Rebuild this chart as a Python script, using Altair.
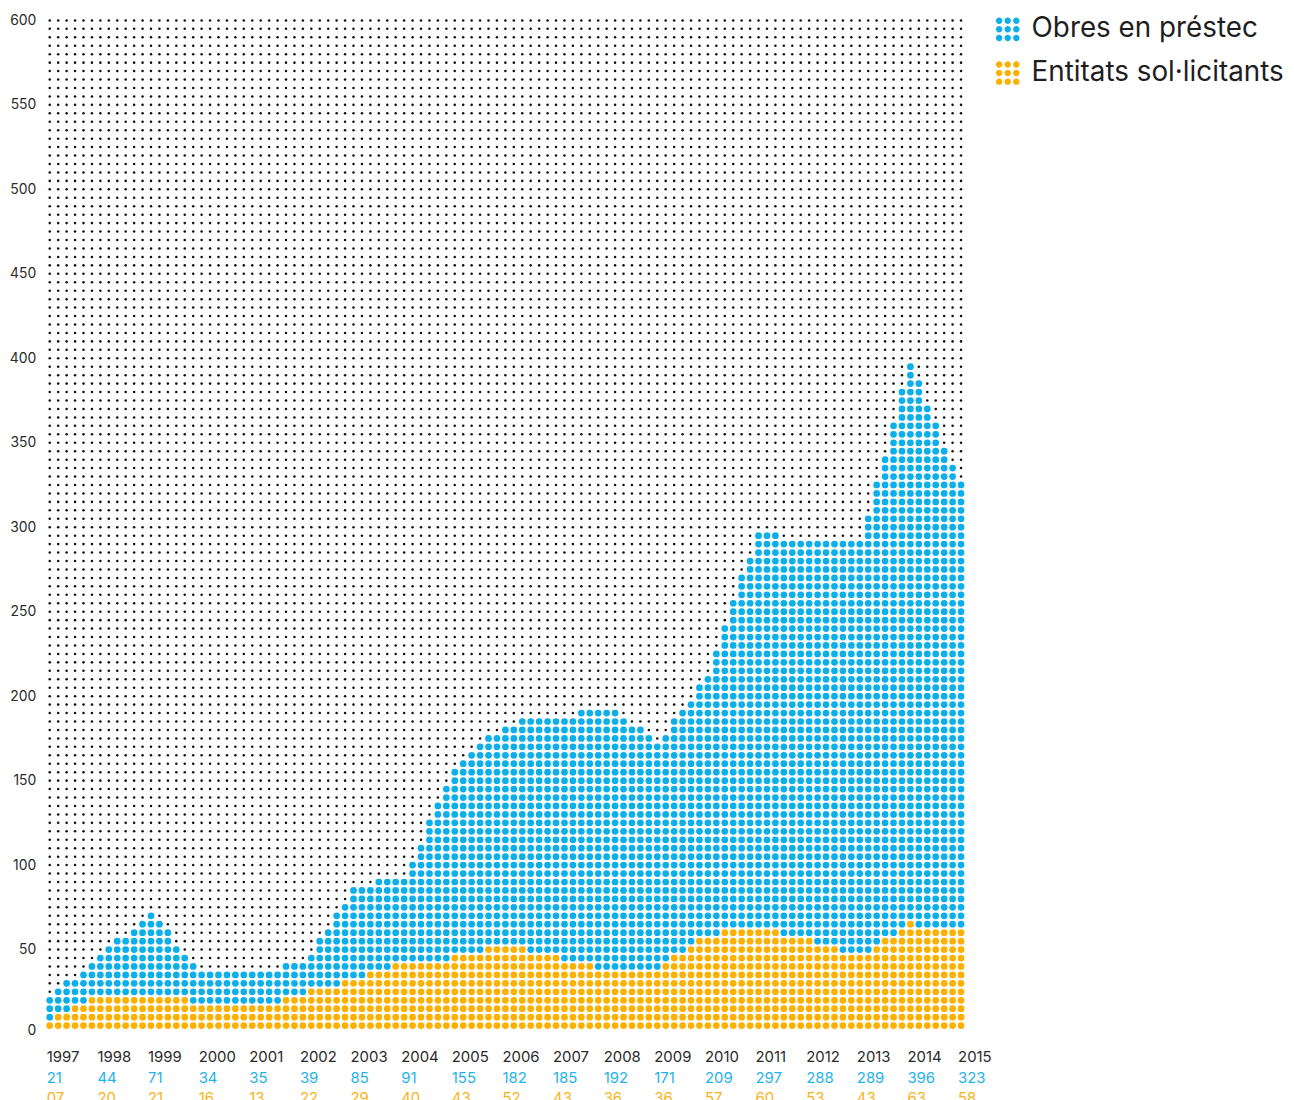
import math
import altair as alt
import pandas as pd

# ---- data ----
years = list(range(1997, 2016))
obres = [21, 44, 71, 34, 35, 39, 85, 91, 155, 182, 185, 192, 171, 209, 297, 288, 289, 396, 323]
entitats = [7, 20, 21, 16, 13, 22, 29, 40, 43, 52, 43, 36, 36, 57, 60, 53, 43, 63, 58]
entitats_labels = ["07", "20", "21", "16", "13", "22", "29", "40", "43", "52",
                   "43", "36", "36", "57", "60", "53", "43", "63", "58"]
y_ticks = list(range(0, 601, 50))

S_OBRES = "Obres en préstec"
S_ENT = "Entitats sol·licitants"
BLUE = "#0CAFEA"
ORANGE = "#FCB000"
TXT = "#2a2a2a"
FONT = "Inter"

# ---- dot grid rendering of the two overlaid areas (6 columns per year, one row per 5 units) ----
COLS_PER_YEAR = 6
ROW_STEP = 5
n_rows = 600 // ROW_STEP


def level(series, i):
    s = i // COLS_PER_YEAR
    t = (i % COLS_PER_YEAR) / COLS_PER_YEAR
    if s >= len(series) - 1:
        return series[-1]
    return series[s] + (series[s + 1] - series[s]) * t


def n_dots(v):
    return max(0, math.ceil((v - ROW_STEP / 2) / ROW_STEP))


fg, bg = [], []
n_cols = (len(years) - 1) * COLS_PER_YEAR + 1
for i in range(n_cols):
    xv = years[0] + i / COLS_PER_YEAR
    no = n_dots(level(obres, i))
    ne = n_dots(level(entitats, i))
    for k in range(1, n_rows + 1):
        yv = k * ROW_STEP
        if k <= ne:
            fg.append({"x": xv, "y": yv, "serie": S_ENT})
        elif k <= no:
            fg.append({"x": xv, "y": yv, "serie": S_OBRES})
        else:
            bg.append({"x": xv, "y": yv})

fg_df = pd.DataFrame(fg)
bg_df = pd.DataFrame(bg)
lab_df = pd.DataFrame({"year": years, "ylab": [str(y) for y in years],
                       "obres": [str(v) for v in obres], "ent": entitats_labels})

W, H = 917, 1020
xs = alt.Scale(domain=[1997, 2015], nice=False, zero=False)
ys = alt.Scale(domain=[0, 600], nice=False, zero=True)

# legend icon: 3x3 dots
r = 0.27
pts = [-0.72, 0.0, 0.72]
icon = " ".join(
    f"M{cx - r:.3f},{cy:.3f} A{r},{r} 0 1,1 {cx + r:.3f},{cy:.3f} A{r},{r} 0 1,1 {cx - r:.3f},{cy:.3f} Z"
    for cy in pts for cx in pts)

bg_layer = alt.Chart(bg_df).mark_circle(size=6.5, color="#111111", opacity=1).encode(
    x=alt.X("x:Q", scale=xs, axis=None),
    y=alt.Y("y:Q", scale=ys, axis=alt.Axis(
        values=y_ticks, domain=False, ticks=False, grid=False,
        labelPadding=14, labelFontSize=14, labelFont=FONT, labelColor=TXT, title=None,
        labelBaseline={"condition": {"test": "datum.value == 0", "value": "alphabetic"},
                       "value": "middle"})),
)

fg_layer = alt.Chart(fg_df).mark_circle(size=46, opacity=1).encode(
    x=alt.X("x:Q", scale=xs, axis=None),
    y=alt.Y("y:Q", scale=ys),
    color=alt.Color("serie:N",
                    scale=alt.Scale(domain=[S_OBRES, S_ENT], range=[BLUE, ORANGE]),
                    legend=alt.Legend(orient="none", legendX=950, legendY=-5, title=None,
                                      symbolType=icon, symbolSize=576, symbolOpacity=1,
                                      symbolStrokeWidth=0,
                                      labelFontSize=28, labelFont=FONT, labelColor="#1e1e1e",
                                      labelOffset=10, rowPadding=16, labelLimit=500)),
)

base_t = alt.Chart(lab_df)
year_txt = base_t.mark_text(align="left", baseline="middle", dx=-3, fontSize=15, font=FONT,
                            color=TXT).encode(
    x=alt.X("year:Q", scale=xs), y=alt.value(H + 23), text="ylab:N")
obres_txt = base_t.mark_text(align="left", baseline="middle", dx=-3, fontSize=15, font=FONT,
                             color="#1FB3EA").encode(
    x=alt.X("year:Q", scale=xs), y=alt.value(H + 44), text="obres:N")
ent_txt = base_t.mark_text(align="left", baseline="middle", dx=-3, fontSize=15, font=FONT,
                           color="#F9B31A").encode(
    x=alt.X("year:Q", scale=xs), y=alt.value(H + 64), text="ent:N")

chart = alt.layer(bg_layer, fg_layer, year_txt, obres_txt, ent_txt).properties(
    width=W, height=H,
    autosize=alt.AutoSizeParams(type="none"),
    padding={"left": 42, "top": 9, "right": 327, "bottom": 80},
).configure_view(stroke=None)

chart.save("out.html", embed_options={"renderer": "svg", "actions": False})
